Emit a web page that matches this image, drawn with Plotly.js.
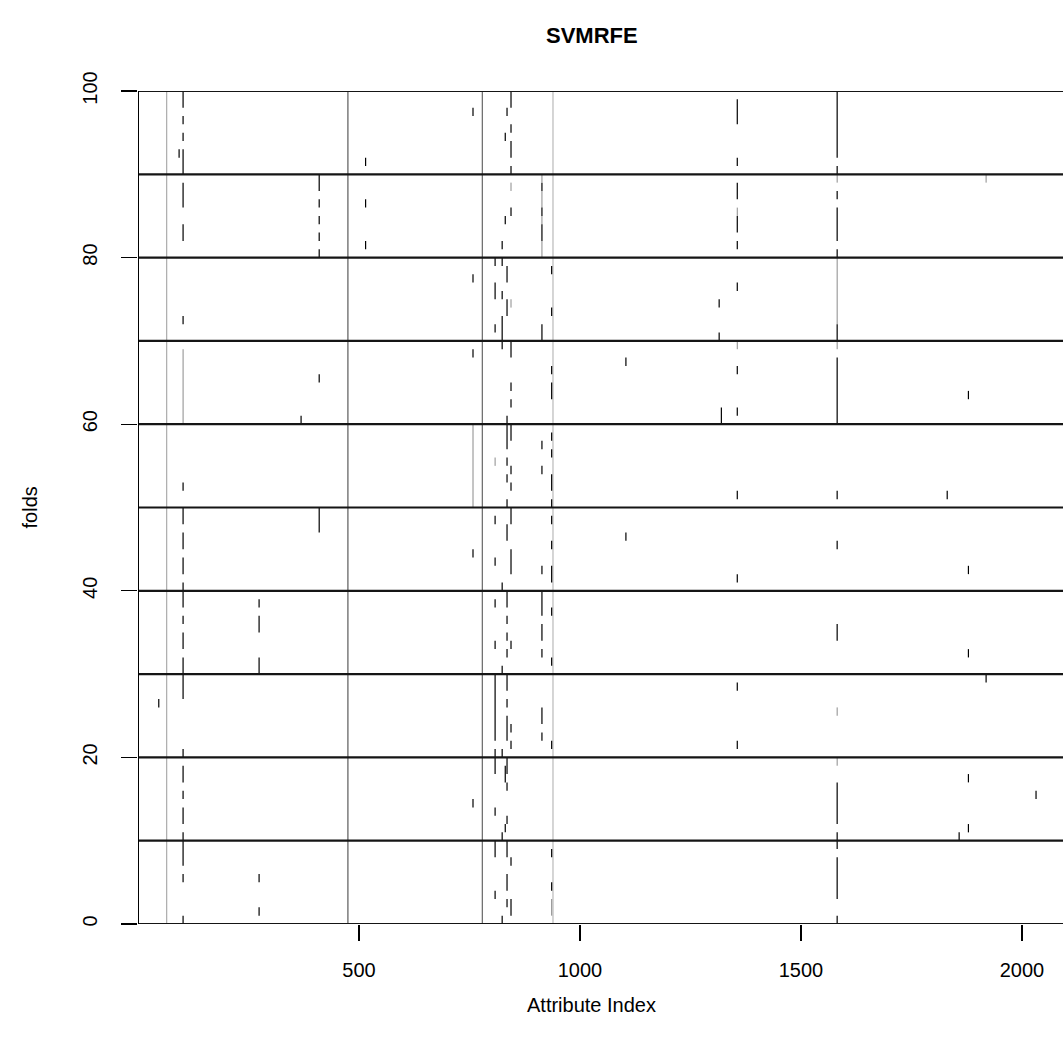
<!DOCTYPE html>
<html><head><meta charset="utf-8">
<script src="https://cdn.plot.ly/plotly-3.0.1.min.js"></script>
<style>body{margin:0;background:#fff}#chart{width:1063px;height:1050px}</style>
</head><body><div id="chart"></div>
<script>
// ---- data: attribute indices selected in each of 100 folds ----
const fullAttr = [65, 475, 779, 939];          // selected in every fold
const fullShade = ['#9a9a9a', '#3a3a3a', '#484848', '#ababab'];

const blackAttr = [47, 93, 102, 274, 369, 410, 515, 758, 808, 824, 831, 835, 844, 914, 936, 1104, 1315, 1320, 1356, 1582, 1831, 1858, 1879, 1919, 2032];
const blackFolds = [
  [27],
  [93],
  [100,99,97,95,93,92,91,89,88,87,84,83,73,53,50,49,47,46,44,43,41,40,39,37,35,34,32,31,30,29,28,21,19,18,16,14,13,11,10,9,8,6,1],
  [39,37,36,32,31,6,2],
  [61],
  [90,89,87,85,83,81,66,50,49,48],
  [92,87,82],
  [98,78,69,45,15],
  [80,77,76,72,49,44,39,34,30,29,28,27,26,25,24,23,21,20,19,14,10,9,4],
  [82,80,76,73,72,71,70,41,31,21,11,1],
  [95,85,19,18,12],
  [98,79,78,75,74,61,60,59,58,56,54,51,48,47,40,39,37,35,33,30,29,27,25,24,23,20,19,17,13,10,9,6,5,3],
  [100,99,96,94,93,91,86,70,69,65,63,60,59,55,53,50,49,45,44,43,34,24,22,8,3,2],
  [89,86,84,83,72,71,58,55,43,40,39,38,36,35,33,26,25,23],
  [79,74,67,65,64,59,57,54,53,51,49,46,43,42,38,32,22,9,5],
  [68,47],
  [75,71],
  [62,61],
  [99,98,97,92,89,88,85,84,82,77,67,62,52,42,29,22],
  [100,99,98,97,96,95,94,93,91,88,86,85,84,83,81,72,71,68,67,66,65,64,63,62,61,52,46,36,35,17,16,15,14,13,11,10,8,7,6,5,4,1],
  [52],
  [11],
  [64,43,33,18,12],
  [30],
  [16]
];

const grayAttr = [102, 758, 808, 844, 914, 936, 1356, 1582, 1919];
const grayFolds = [
  [69,68,67,66,65,64,63,62,61],
  [60,59,58,57,56,55,54,53,52,51],
  [56],
  [89,75],
  [90,88,87,85,82,81],
  [3,2],
  [86,70],
  [90,80,79,78,77,76,75,74,73,70,26,20],
  [90]
];

const blockLines = [0,10,20,30,40,50,60,70,80,90,100];
const xTicks = [500,1000,1500,2000];
const yTicks = [0,20,40,60,80,100];

function buildSegs(attrs, folds){
  const x=[], y=[];
  attrs.forEach((a,i)=>{
    const f=[...folds[i]].sort((p,q)=>q-p);
    let k=0;
    while(k<f.length){
      let hi=f[k], lo=f[k];
      while(k+1<f.length && f[k+1]===lo-1){k++; lo=f[k];}
      x.push(a,a,null); y.push(hi,lo-1,null);
      k++;
    }
  });
  return {x,y};
}

const traces=[];
fullAttr.forEach((a,i)=>{
  traces.push({type:'scatter',mode:'lines',x:[a,a],y:[0,100],
    line:{color:fullShade[i],width:1},hoverinfo:'skip',showlegend:false});
});
const g=buildSegs(grayAttr,grayFolds);
traces.push({type:'scatter',mode:'lines',x:g.x,y:g.y,connectgaps:false,
  line:{color:'#8a8a8a',width:1},hoverinfo:'skip',showlegend:false});
const b=buildSegs(blackAttr,blackFolds);
traces.push({type:'scatter',mode:'lines',x:b.x,y:b.y,connectgaps:false,
  line:{color:'#000000',width:1.2},hoverinfo:'skip',showlegend:false});

const shapes = blockLines.map(v=>({type:'line',xref:'paper',x0:0,x1:1,yref:'y',y0:v,y1:v,
  line:{color:'#151515',width:2.2}}));
shapes.push({type:'line',xref:'x',x0:0,x1:0,yref:'y',y0:0,y1:100,line:{color:'#000',width:2}});

const font='Liberation Sans, Arial, Helvetica, sans-serif';
const layout={
  width:1063,height:1050,
  margin:{l:138,r:0,t:91,b:126,pad:0},
  paper_bgcolor:'#fff',plot_bgcolor:'#fff',
  showlegend:false,
  xaxis:{range:[0,2093],showgrid:false,zeroline:false,showline:false,
    tickmode:'array',tickvals:xTicks,ticktext:xTicks.map(String),
    ticks:'outside',ticklen:16,tickwidth:1.3,tickcolor:'#000',
    tickfont:{family:font,size:20,color:'#000'},ticklabelstandoff:12},
  yaxis:{range:[0,100],showgrid:false,zeroline:false,showline:false,
    tickmode:'array',tickvals:yTicks,ticktext:yTicks.map(String),
    ticks:'outside',ticklen:16,tickwidth:1.3,tickcolor:'#000',tickangle:-90,
    tickfont:{family:font,size:20,color:'#000'},ticklabelstandoff:16},
  shapes:shapes,
  annotations:[
    {text:'<b>SVMRFE</b>',xref:'paper',yref:'paper',x:0.4908,y:1.0668,xanchor:'center',yanchor:'middle',
      showarrow:false,font:{family:font,size:22,color:'#000'}},
    {text:'Attribute Index',xref:'paper',yref:'paper',x:0.4908,y:-0.0972,xanchor:'center',yanchor:'middle',
      showarrow:false,font:{family:font,size:20,color:'#000'}},
    {text:'folds',xref:'paper',yref:'paper',x:-0.1168,y:0.5,xanchor:'center',yanchor:'middle',textangle:-90,
      showarrow:false,font:{family:font,size:20,color:'#000'}}
  ]
};
Plotly.newPlot('chart',traces,layout,{staticPlot:true,displayModeBar:false});
</script></body></html>
